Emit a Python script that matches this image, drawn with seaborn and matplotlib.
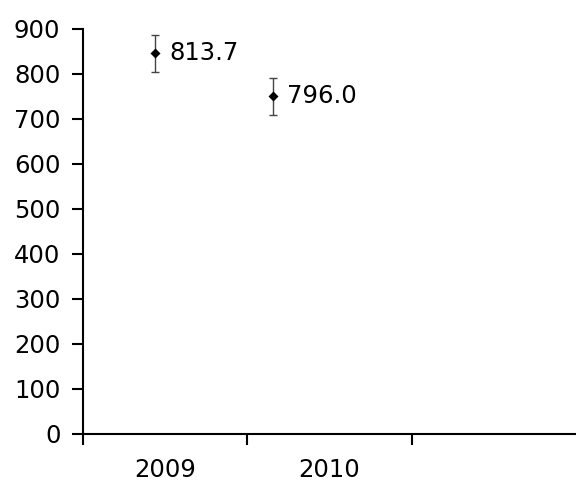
import numpy as np
import pandas as pd
import matplotlib
matplotlib.use("Agg")
import matplotlib.pyplot as plt
import seaborn as sns

# === DATA ===
YEARS = ["2009", "2010"]
X_POS = [0.44, 1.16]          # position within the category band (band i spans i..i+1)
VALUES = [847, 752]
ERR_LOW = [804, 708]
ERR_HIGH = [886, 791]
LABELS = ["813.7", "796.0"]
Y_TICKS = [0, 100, 200, 300, 400, 500, 600, 700, 800, 900]

sns.set_style("ticks")
plt.rcParams["font.family"] = ["DejaVu Sans"]

FS = 17.5

df = pd.DataFrame({"year": YEARS, "x": X_POS, "value": VALUES,
                   "lo": ERR_LOW, "hi": ERR_HIGH, "label": LABELS})

fig = plt.figure(figsize=(5.76, 4.82), dpi=100)
ax = fig.add_axes([0.1436, 0.0996, 0.8564, 0.8404])

ax.errorbar(df["x"], df["value"],
            yerr=[df["value"] - df["lo"], df["hi"] - df["value"]],
            fmt="none", ecolor="#444444", elinewidth=1, capsize=3, capthick=1, zorder=2)
sns.scatterplot(data=df, x="x", y="value", marker="D", color="black",
                s=26, edgecolor="black", linewidth=0, ax=ax, zorder=3, legend=False)

for _, r in df.iterrows():
    ax.annotate(r["label"], (r["x"], r["value"]), xytext=(10, 0), textcoords="offset points",
                va="center", ha="left", fontsize=FS, color="black")

ax.set_xlim(0, 3)
ax.set_ylim(0, 900)
ax.set_yticks(Y_TICKS)
ax.set_xticks([0, 1, 2])
ax.set_xticklabels([])
ax.set_xticks([0.5, 1.5], minor=True)
ax.set_xticklabels(YEARS, minor=True)
ax.tick_params(axis="x", which="minor", length=0, pad=17.5, labelsize=FS, labelcolor="black")
ax.tick_params(axis="x", which="major", length=8, width=1.5, direction="out", color="black")
ax.tick_params(axis="y", length=8, width=1.5, direction="out", pad=8, labelsize=FS,
               color="black", labelcolor="black")

ax.set_xlabel("")
ax.set_ylabel("")
ax.spines[["top", "right"]].set_visible(False)
ax.spines[["left", "bottom"]].set_linewidth(1.5)
ax.spines[["left", "bottom"]].set_color("black")
for s in ["left", "bottom"]:
    ax.spines[s].set_clip_on(False)

fig.savefig("out.png", dpi=100)
